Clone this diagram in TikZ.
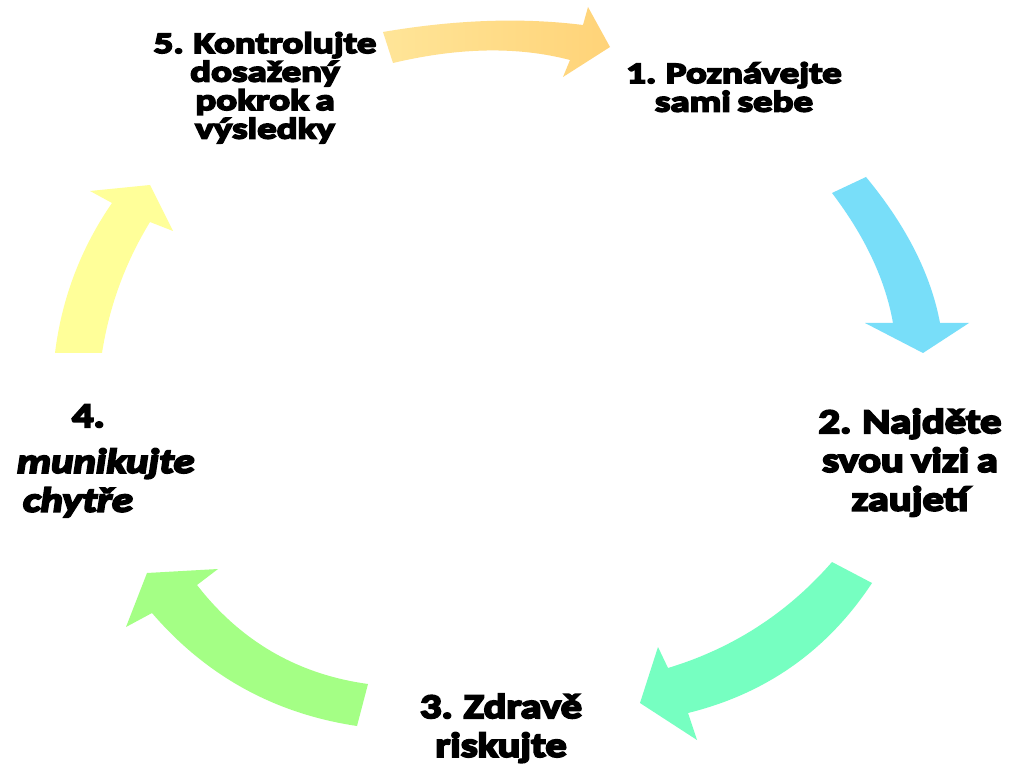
\documentclass[tikz,border=0pt]{standalone}
\usepackage{fontspec}
\usetikzlibrary{calc}
\setmainfont{Carlito}
\newfontfamily\smallfnt[FakeStretch=1.32,FakeBold=6,WordSpace=0.75]{Carlito}
\newfontfamily\bigfnt[FakeStretch=1.23,FakeBold=6,WordSpace=0.8]{Carlito}
\definecolor{oraA}{RGB}{255,229,152}
\definecolor{oraB}{RGB}{255,211,120}
\definecolor{cblue}{RGB}{120,222,249}
\definecolor{cteal}{RGB}{118,255,193}
\definecolor{cgreen}{RGB}{164,255,133}
\definecolor{cyellow}{RGB}{255,255,153}
\newcommand\ctrstack[1]{\vtop{\lineskiplimit=-\maxdimen\halign{\hfil##\hfil\cr#1\crcr}}}
\newcommand\leftstack[1]{\vtop{\lineskiplimit=-\maxdimen\halign{##\hfil\cr#1\crcr}}}
\newcommand\smalltxt{\smallfnt\bfseries\fontsize{29.5}{28.5}\selectfont}
\newcommand\bigtxt{\bigfnt\bfseries\fontsize{34.5}{38.8}\selectfont}
% quadratic edge from #1 to #3 with quadratic control point #2
\newcommand\qedge[3]{.. controls ($#1!2/3!#2$) and ($#3!2/3!#2$) .. #3}
\tikzset{
  lbl/.style={inner sep=0pt, outer sep=0pt, anchor=base, text=black},
  blockarrow/.style={draw=none}
}
\begin{document}
\begin{tikzpicture}[x=1pt,y=-1pt]
\useasboundingbox (0,0) rectangle (1021,770);
\fill[white] (0,0) rectangle (1021,770);
% arrow 5 -> 1 (top, orange gradient)
\path[blockarrow, left color=oraA, right color=oraB]
  (383,32) \qedge{(383,32)}{(491,13.5)}{(583,25)} -- (588,7) -- (610,47)
  -- (563,77) -- (570,60) \qedge{(570,60)}{(492,39.5)}{(393,63)} -- cycle;
% arrow 1 -> 2 (blue)
\fill[blockarrow, cblue]
  (832,193) \qedge{(832,193)}{(881.5,258)}{(893,323)} -- (865,323) -- (923,353)
  -- (969,323) -- (940,323) \qedge{(940,323)}{(926.4,250)}{(866,177)} -- cycle;
% arrow 2 -> 3 (teal)
\fill[blockarrow, cteal]
  (832,562) \qedge{(832,562)}{(765.2,638.6)}{(668,668)} -- (658,647) -- (640,703)
  -- (697,740) -- (688,713) \qedge{(688,713)}{(805.4,684)}{(872,583)} -- cycle;
% arrow 3 -> 4 (green)
\fill[blockarrow, cgreen]
  (368,684) \qedge{(368,684)}{(262.5,669.5)}{(197,585)} -- (218,569) -- (147,573)
  -- (126,627) -- (152,613) \qedge{(152,613)}{(233.3,707.5)}{(357,726)} -- cycle;
% arrow 4 -> 5 (yellow)
\fill[blockarrow, cyellow]
  (102,353) \qedge{(102,353)}{(113,282.5)}{(150,222)} -- (173,231) -- (150,185)
  -- (90,191) -- (112,203) \qedge{(112,203)}{(65.1,271)}{(55,353)} -- cycle;
% labels
\node[lbl] (l1) at (734,83) {\smalltxt\ctrstack{1. Poznávejte\cr sami sebe}};
\node[lbl] (l2) at (910,433) {\bigtxt\ctrstack{2. Najděte\cr svou vizi a\cr zaujetí}};
\node[lbl] (l3) at (501,718) {\bigtxt\ctrstack{3. Zdravě\cr riskujte}};
\node[lbl, anchor=base west] (l4) at (17,427) {\bigtxt\leftstack{\hskip55pt 4.\cr\noalign{\vskip7pt}\itshape munikujte\cr\hskip6pt\itshape chytře}};
\node[lbl] (l5) at (265,53) {\smalltxt\ctrstack{5. Kontrolujte\cr dosažený\cr pokrok a\cr výsledky}};
\end{tikzpicture}
\end{document}
